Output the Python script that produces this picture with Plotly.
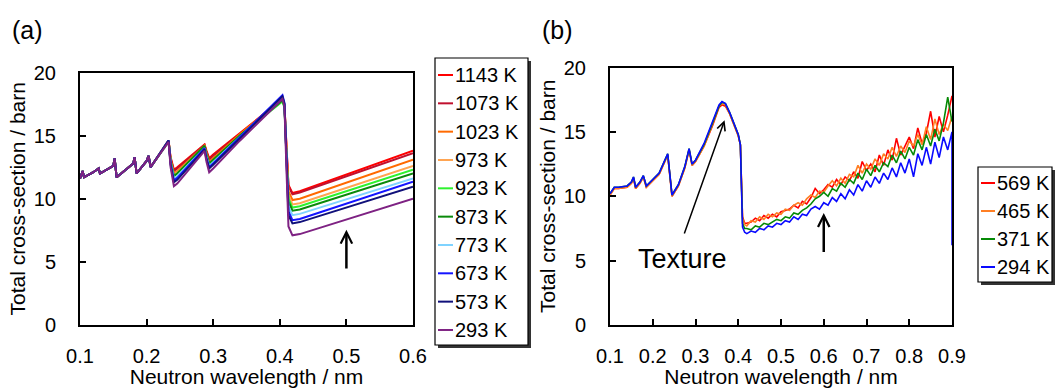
import plotly.graph_objects as go

W, H = 1057, 388

# ---------------- Panel (a) data ----------------
temps_a = ["1143 K", "1073 K", "1023 K", "973 K", "923 K", "873 K", "773 K", "673 K", "573 K", "293 K"]
colors_a = ["#FF0000", "#C0102E", "#FF6A00", "#FFA552", "#2EF22E", "#0A8A0A", "#7FD3FF", "#1414FF", "#10107A", "#7E2283"]

x_a = [0.100, 0.104, 0.106, 0.120, 0.128, 0.130, 0.150, 0.152, 0.155, 0.180, 0.182, 0.185,
       0.200, 0.203, 0.206, 0.233, 0.236, 0.241, 0.246, 0.287, 0.290, 0.294, 0.300, 0.340,
       0.404, 0.407, 0.410, 0.413, 0.419, 0.430, 0.600]

prefix_a = [11.6, 12.2, 11.7, 12.1, 12.4, 12.0, 12.6, 13.2, 11.7, 12.8, 13.3, 12.0, 13.0, 13.4, 12.5]

tail_1143 = [14.6, 13.3, 12.3, 12.5, 14.3, 13.8, 13.2, 13.5, 15.2, 17.9, 17.4, 14.2, 11.1, 10.45, 10.6, 13.8]
tail_1073 = [14.6, 13.2, 12.2, 12.4, 14.25, 13.7, 13.1, 13.4, 15.1, 17.9, 17.4, 14.1, 11.0, 10.35, 10.5, 13.6]
tail_1023 = [14.6, 13.1, 12.0, 12.2, 14.2, 13.6, 12.9, 13.2, 15.1, 18.0, 17.5, 13.9, 10.6, 9.9, 10.0, 13.1]
tail_973 = [14.6, 13.0, 11.9, 12.1, 14.15, 13.5, 12.8, 13.1, 15.0, 17.9, 17.4, 13.7, 10.3, 9.55, 9.65, 12.6]
tail_923 = [14.5, 13.0, 11.8, 12.0, 14.1, 13.4, 12.7, 13.0, 15.0, 17.7, 17.2, 13.5, 10.0, 9.3, 9.4, 12.3]
tail_873 = [14.6, 13.0, 11.8, 12.0, 14.2, 13.5, 12.8, 13.1, 15.0, 17.8, 17.3, 13.4, 9.8, 9.05, 9.15, 12.0]
tail_773 = [14.6, 12.9, 11.6, 11.8, 14.0, 13.3, 12.6, 12.9, 14.9, 18.0, 17.5, 13.3, 9.4, 8.7, 8.8, 11.6]
tail_673 = [14.6, 12.8, 11.45, 11.65, 14.0, 13.2, 12.5, 12.8, 14.9, 18.2, 17.6, 13.1, 9.0, 8.3, 8.4, 11.35]
tail_573 = [14.6, 12.7, 11.3, 11.5, 13.9, 13.1, 12.4, 12.7, 14.8, 18.1, 17.5, 12.9, 8.7, 8.05, 8.15, 10.95]
tail_293 = [14.5, 12.5, 11.0, 11.2, 13.8, 12.9, 12.1, 12.4, 14.6, 17.9, 17.3, 12.3, 7.8, 7.1, 7.2, 10.0]

tails_a = [tail_1143, tail_1073, tail_1023, tail_973, tail_923, tail_873, tail_773, tail_673, tail_573, tail_293]

# ---------------- Panel (b) data ----------------
temps_b = ["569 K", "465 K", "371 K", "294 K"]
colors_b = ["#FF0000", "#FF7F24", "#068A06", "#0A0AFF"]

x_b_early = [0.100, 0.110, 0.120, 0.140, 0.150, 0.155, 0.160, 0.170, 0.178, 0.185, 0.200, 0.215,
             0.235, 0.245, 0.260, 0.275, 0.285, 0.292, 0.300, 0.320, 0.340, 0.355, 0.362, 0.370,
             0.380, 0.390, 0.400, 0.405, 0.410, 0.415]
early_569 = [10.1, 10.6, 10.6, 10.7, 11.0, 11.4, 10.6, 11.0, 11.5, 10.7, 11.2, 11.7, 13.2, 10.0, 10.8,
             12.2, 13.6, 12.4, 12.7, 13.9, 15.5, 16.9, 17.1, 17.0, 16.4, 15.6, 14.7, 14.0, 8.4, 7.9]
early_465 = [10.1, 10.6, 10.6, 10.7, 11.0, 11.4, 10.6, 11.0, 11.5, 10.7, 11.2, 11.7, 13.2, 10.0, 10.8,
             12.2, 13.6, 12.4, 12.7, 13.9, 15.6, 17.0, 17.2, 17.1, 16.4, 15.6, 14.7, 14.0, 8.3, 7.8]
early_371 = [10.2, 10.7, 10.7, 10.8, 11.1, 11.5, 10.7, 11.1, 11.6, 10.8, 11.3, 11.8, 13.3, 10.1, 10.9,
             12.3, 13.7, 12.5, 12.8, 14.0, 15.7, 17.0, 17.3, 17.2, 16.5, 15.7, 14.8, 14.0, 7.9, 7.5]
early_294 = [10.2, 10.7, 10.7, 10.8, 11.1, 11.5, 10.7, 11.1, 11.6, 10.8, 11.3, 11.8, 13.3, 10.1, 10.9,
             12.3, 13.7, 12.5, 12.8, 14.1, 15.8, 17.1, 17.35, 17.2, 16.5, 15.7, 14.8, 14.0, 7.6, 7.2]

x_b_tail = [0.42, 0.43, 0.44, 0.45, 0.46, 0.47, 0.48, 0.49, 0.50, 0.51, 0.52, 0.53, 0.54, 0.55,
            0.56, 0.57, 0.58, 0.59, 0.60, 0.61, 0.62, 0.63, 0.64, 0.65, 0.66, 0.67, 0.68, 0.69,
            0.70, 0.71, 0.72, 0.73, 0.74, 0.75, 0.76, 0.77, 0.78, 0.79, 0.80, 0.81, 0.82, 0.83,
            0.84, 0.85, 0.86, 0.87, 0.88, 0.89, 0.90]
tail_569 = [7.9, 8.0, 8.3, 8.1, 8.5, 8.3, 8.6, 8.4, 8.8, 8.9, 9.0, 9.3, 9.1, 9.6, 9.4, 9.9, 10.6, 10.2,
            10.5, 10.9, 10.7, 11.3, 10.9, 11.5, 11.2, 11.9, 11.4, 12.7, 12.0, 12.5, 11.9, 13.2, 12.4,
            13.6, 12.8, 14.5, 13.2, 13.9, 14.6, 13.7, 15.3, 14.1, 14.9, 16.6, 14.6, 16.2, 15.0, 16.3, 17.8]
tail_465 = [7.7, 8.1, 8.0, 8.4, 8.2, 8.6, 8.4, 8.7, 8.6, 9.0, 8.9, 9.3, 9.5, 9.3, 9.8, 10.1, 9.9, 10.4,
            10.3, 10.8, 11.2, 10.8, 11.4, 11.0, 11.7, 11.5, 12.4, 11.8, 12.5, 12.1, 12.9, 12.4, 13.3,
            12.9, 13.8, 13.1, 13.9, 13.4, 14.3, 13.9, 14.8, 14.0, 15.4, 14.4, 16.0, 14.8, 15.6, 15.1, 16.2]
tail_371 = [7.5, 7.4, 7.7, 7.6, 7.9, 7.8, 8.0, 8.2, 8.1, 8.4, 8.3, 8.7, 8.6, 8.9, 9.1, 9.4, 9.8, 10.0,
            10.3, 10.0, 10.6, 10.4, 11.0, 10.7, 11.3, 11.0, 11.8, 11.3, 12.1, 11.6, 12.4, 11.9, 12.6,
            12.3, 13.2, 12.6, 13.5, 12.9, 13.8, 13.2, 14.4, 13.6, 14.8, 13.9, 15.2, 14.3, 15.7, 17.7, 15.8]
tail_294 = [7.1, 7.3, 7.2, 7.5, 7.4, 7.7, 7.6, 7.9, 7.8, 8.1, 8.0, 8.4, 8.2, 8.6, 8.5, 9.0, 9.2, 9.0,
            9.5, 9.3, 9.9, 9.6, 10.2, 9.8, 10.5, 10.1, 10.9, 10.4, 11.2, 10.7, 11.5, 11.0, 11.8, 11.3,
            12.2, 11.5, 12.6, 11.8, 12.9, 11.5, 13.3, 12.4, 13.8, 12.5, 14.2, 13.0, 14.6, 13.6, 15.0]
x_b_drop_294 = [0.90]
y_b_drop_294 = [6.2]

early_b = [early_569, early_465, early_371, early_294]
tails_b = [tail_569, tail_465, tail_371, tail_294]

x_ticks_a = [0.1, 0.2, 0.3, 0.4, 0.5, 0.6]
x_ticks_b = [0.1, 0.2, 0.3, 0.4, 0.5, 0.6, 0.7, 0.8, 0.9]
y_ticks = [0, 5, 10, 15, 20]
x_range_a = [0.1, 0.6]
x_range_b = [0.1, 0.9]
y_range = [0, 20]

FONT = "Liberation Sans, Arial, sans-serif"


def px(x):
    return x / W


def py(y):
    return 1 - y / H


fig = go.Figure()

for name, col, tail in zip(temps_a, colors_a, tails_a):
    fig.add_trace(go.Scatter(x=x_a, y=prefix_a + tail, mode="lines", name=name,
                             line=dict(color=col, width=2.0), xaxis="x", yaxis="y",
                             showlegend=False))

for name, col, e, t in zip(temps_b, colors_b, early_b, tails_b):
    xs = x_b_early + x_b_tail
    ys = e + t
    if name == "294 K":
        xs = xs + x_b_drop_294
        ys = ys + y_b_drop_294
    fig.add_trace(go.Scatter(x=xs, y=ys, mode="lines", name=name,
                             line=dict(color=col, width=1.6), xaxis="x2", yaxis="y2",
                             showlegend=False))

axis_common = dict(showline=True, linecolor="black", linewidth=2, mirror=True,
                   ticks="inside", ticklen=6, tickwidth=1.5, tickcolor="black",
                   showgrid=False, zeroline=False, automargin=False,
                   tickfont=dict(family=FONT, size=20, color="black"))

title_font = dict(family=FONT, size=21, color="black")

dom_a = [80, 413, 72.5, 325]
dom_b = [610, 952, 67.5, 325]

fig.update_layout(
    width=W, height=H,
    margin=dict(l=0, r=0, t=0, b=0, autoexpand=False),
    paper_bgcolor="white", plot_bgcolor="white",
    showlegend=False,
    xaxis=dict(domain=[px(dom_a[0]), px(dom_a[1])], range=x_range_a, tickvals=x_ticks_a,
               ticktext=[f"{v:.1f}" for v in x_ticks_a], anchor="y",
               ticklabelstandoff=12,
               title=dict(text="Neutron wavelength / nm", font=title_font, standoff=8),
               **axis_common),
    yaxis=dict(domain=[py(dom_a[3]), py(dom_a[2])], range=y_range, tickvals=y_ticks, anchor="x",
               ticklabelstandoff=18,
               title=dict(text="Total cross-section / barn", font=title_font, standoff=2),
               **axis_common),
    xaxis2=dict(domain=[px(dom_b[0]), px(dom_b[1])], range=x_range_b, tickvals=x_ticks_b,
                ticktext=[f"{v:.1f}" for v in x_ticks_b], anchor="y2",
                ticklabelstandoff=12,
                title=dict(text="Neutron wavelength / nm", font=title_font, standoff=8),
                **axis_common),
    yaxis2=dict(domain=[py(dom_b[3]), py(dom_b[2])], range=y_range, tickvals=y_ticks, anchor="x2",
                ticklabelstandoff=18,
                title=dict(text="Total cross-section / barn", font=title_font, standoff=2),
                **axis_common),
)

shapes = []
annotations = []


def legend_box(x0, y0, x1, y1, names, cols, y_first, step, lx0, lx1, tx):
    shapes.append(dict(type="rect", xref="paper", yref="paper",
                       x0=px(x0 + 3), x1=px(x1 + 3), y0=py(y1 + 3), y1=py(y0 + 3),
                       line=dict(width=0), fillcolor="#333333", layer="above"))
    shapes.append(dict(type="rect", xref="paper", yref="paper",
                       x0=px(x0), x1=px(x1), y0=py(y1), y1=py(y0),
                       line=dict(color="black", width=1.2), fillcolor="white", layer="above"))
    for i, (n, c) in enumerate(zip(names, cols)):
        yy = y_first + step * i
        shapes.append(dict(type="line", xref="paper", yref="paper",
                           x0=px(lx0), x1=px(lx1), y0=py(yy), y1=py(yy),
                           line=dict(color=c, width=2), layer="above"))
        annotations.append(dict(text=n, xref="paper", yref="paper", x=px(tx), y=py(yy),
                                xanchor="left", yanchor="middle", showarrow=False,
                                font=dict(family=FONT, size=20, color="black")))


legend_box(435, 58, 528, 345, temps_a, colors_a, 75, 28.33, 438, 453, 453)
legend_box(978, 167, 1052, 282, temps_b, colors_b, 183, 28, 981, 995, 995)

# panel labels
annotations.append(dict(text="(a)", xref="paper", yref="paper", x=px(10), y=py(30),
                        xanchor="left", yanchor="middle", showarrow=False,
                        font=dict(family=FONT, size=25, color="black")))
annotations.append(dict(text="(b)", xref="paper", yref="paper", x=px(540), y=py(30),
                        xanchor="left", yanchor="middle", showarrow=False,
                        font=dict(family=FONT, size=25, color="black")))

# Texture label
annotations.append(dict(text="Texture", xref="paper", yref="paper", x=px(682), y=py(259),
                        xanchor="center", yanchor="middle", showarrow=False,
                        font=dict(family=FONT, size=27, color="black")))

# arrows
annotations.append(dict(text="", x=0.368, y=15.9, xref="x2", yref="y2",
                        ax=0.2726, ay=7.0, axref="x2", ayref="y2",
                        showarrow=True, arrowhead=5, arrowsize=1.1, arrowwidth=1.5,
                        arrowcolor="black"))
annotations.append(dict(text="", x=0.6, y=8.7, xref="x2", yref="y2",
                        ax=0.6, ay=5.55, axref="x2", ayref="y2",
                        showarrow=True, arrowhead=5, arrowsize=0.9, arrowwidth=2.5,
                        arrowcolor="black"))
annotations.append(dict(text="", x=0.5, y=7.55, xref="x", yref="y",
                        ax=0.5, ay=4.35, axref="x", ayref="y",
                        showarrow=True, arrowhead=5, arrowsize=0.9, arrowwidth=2.5,
                        arrowcolor="black"))

fig.update_layout(shapes=shapes, annotations=annotations)

fig.write_html("out.html")
